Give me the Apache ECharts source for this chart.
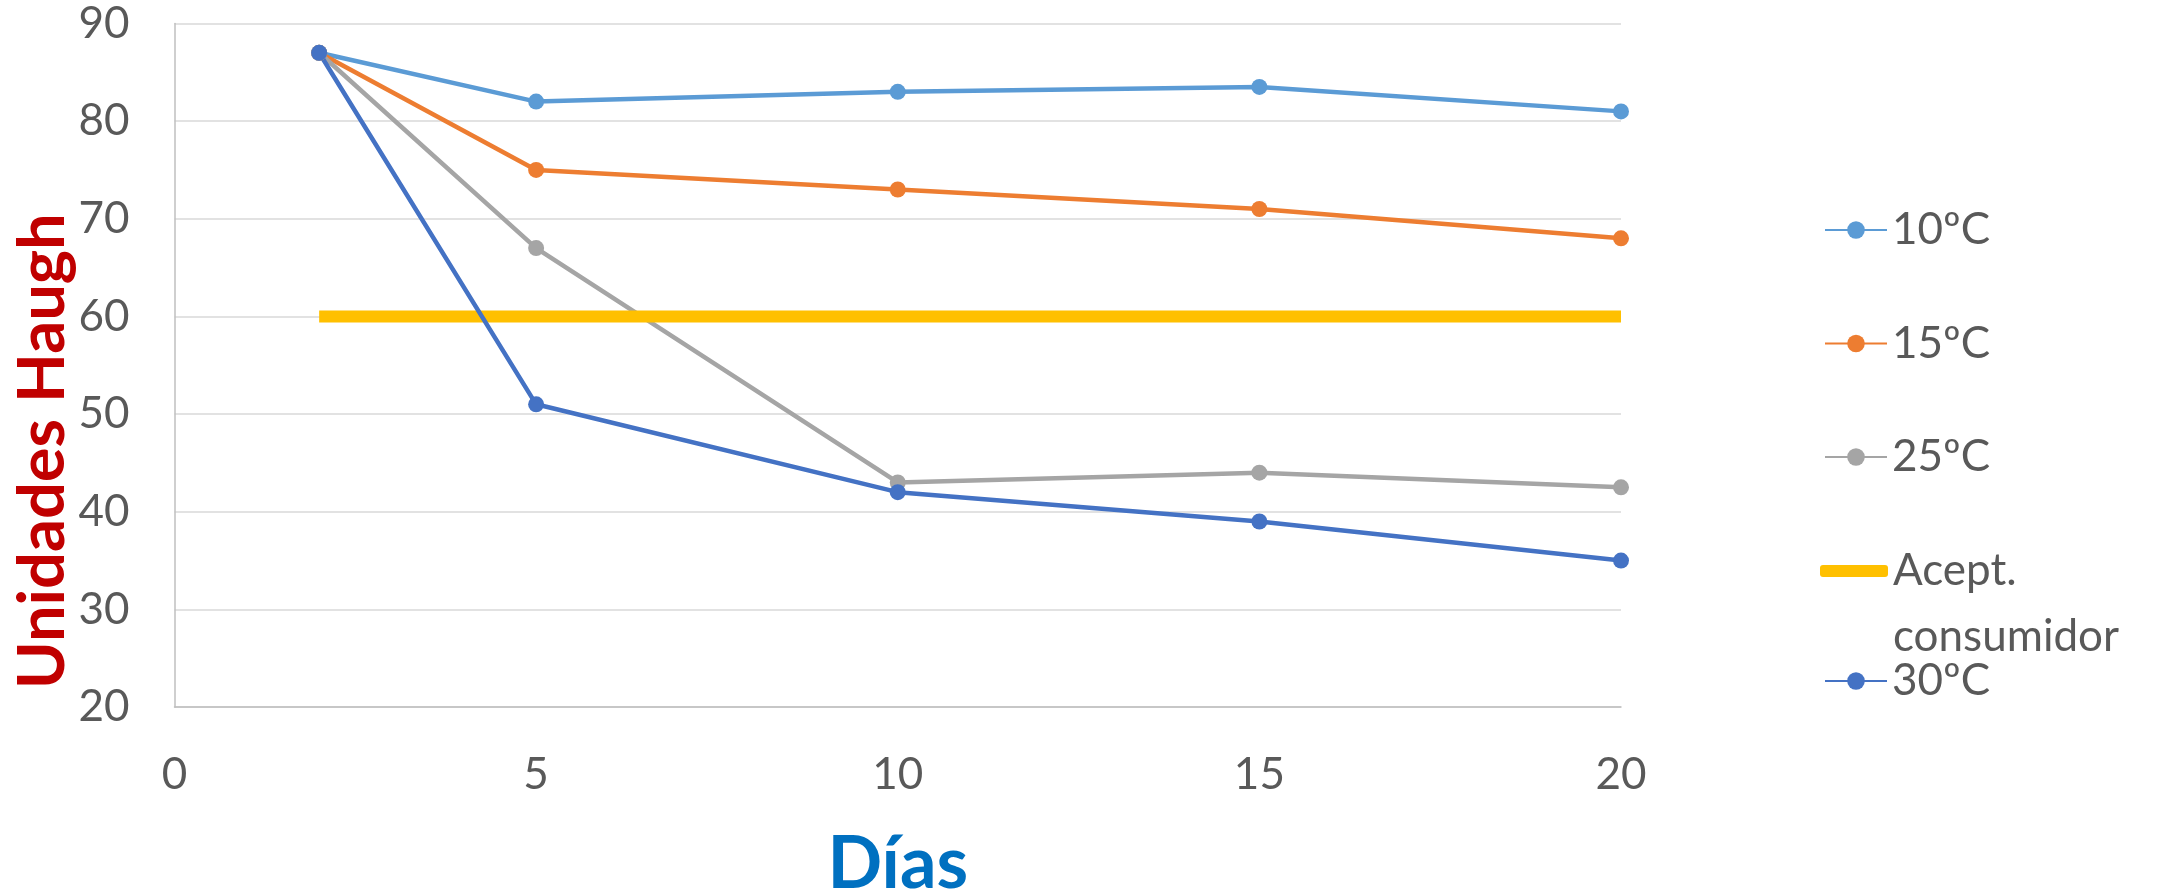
<!DOCTYPE html>
<html>
<head>
<meta charset="utf-8">
<script src="https://cdn.jsdelivr.net/npm/echarts@6/dist/echarts.min.js"></script>
<style>
  html, body { margin: 0; padding: 0; background: #ffffff; }
  #chart { width: 2170px; height: 896px; }
</style>
</head>
<body>
<div id="chart"></div>
<script>
// Haugh units over storage days at several temperatures
const dias = [2, 5, 10, 15, 20];
const t10 = [87, 82, 83, 83.5, 81];
const t15 = [87, 75, 73, 71, 68];
const t25 = [87, 67, 43, 44, 42.5];
const t30 = [87, 51, 42, 39, 35];
const aceptDias = [2, 20];
const aceptValor = [60, 60];

const xTicks = { min: 0, max: 20, interval: 5 };
const yTicks = { min: 20, max: 90, interval: 10 };

const FONT = 'Lato, "Open Sans", sans-serif';
const GREY = '#595959';

function pairs(xs, ys) { return xs.map((x, i) => [x, ys[i]]); }

function lineSeries(name, ys, color) {
  return {
    name: name,
    type: 'line',
    data: pairs(dias, ys),
    symbol: 'circle',
    symbolSize: 16,
    itemStyle: { color: color },
    lineStyle: { color: color, width: 4.5 },
    emphasis: { disabled: true },
    animation: false
  };
}

const chart = echarts.init(document.getElementById('chart'));

const legendText = { fontFamily: FONT, fontSize: 44, color: GREY, lineHeight: 50 };

chart.setOption({
  backgroundColor: '#ffffff',
  grid: { left: 174.5, right: 549, top: 23.5, bottom: 189, containLabel: false, outerBoundsMode: 'none' },
  xAxis: {
    type: 'value',
    min: xTicks.min, max: xTicks.max, interval: xTicks.interval,
    name: 'Días',
    nameLocation: 'middle',
    nameGap: 118,
    nameMoveOverlap: false,
    nameTextStyle: { fontFamily: FONT, fontSize: 72, fontWeight: 'bold', color: '#0070C0', lineHeight: 80 },
    axisLine: { show: true, lineStyle: { color: '#BFBFBF', width: 1.5 } },
    axisTick: { show: false },
    splitLine: { show: false },
    axisLabel: { fontFamily: FONT, fontSize: 44, color: GREY, margin: 46, lineHeight: 44 }
  },
  yAxis: {
    type: 'value',
    min: yTicks.min, max: yTicks.max, interval: yTicks.interval,
    name: 'Unidades Haugh',
    nameLocation: 'middle',
    nameRotate: 90,
    nameGap: 96,
    nameMoveOverlap: false,
    nameTextStyle: { fontFamily: FONT, fontSize: 65, fontWeight: 'bold', color: '#C00000', lineHeight: 70, padding: [0, 172, 0, 0] },
    axisLine: { show: true, lineStyle: { color: '#BFBFBF', width: 1.5 } },
    axisTick: { show: false },
    splitLine: { show: true, lineStyle: { color: '#D9D9D9', width: 1.5 } },
    axisLabel: { fontFamily: FONT, fontSize: 44, color: GREY, margin: 45 }
  },
  legend: [
    {
      data: ['10ºC', '15ºC', '25ºC'],
      orient: 'vertical', left: 1824, top: 205, padding: 0,
      itemWidth: 62, itemHeight: 22, itemGap: 63.5,
      textStyle: legendText, selectedMode: false
    },
    {
      data: [{ name: 'Acept. consumidor', icon: 'roundRect', itemStyle: { color: '#FFC000' } }],
      formatter: function () { return '\nAcept.\nconsumidor'; },
      orient: 'vertical', left: 1820, top: 472, padding: 0,
      itemWidth: 68, itemHeight: 12,
      textStyle: { fontFamily: FONT, fontSize: 44, color: GREY, lineHeight: 66 },
      selectedMode: false
    },
    {
      data: ['30ºC'],
      orient: 'vertical', left: 1824, top: 656, padding: 0,
      itemWidth: 62, itemHeight: 22,
      textStyle: legendText, selectedMode: false
    }
  ],
  series: [
    lineSeries('10ºC', t10, '#5B9BD5'),
    lineSeries('15ºC', t15, '#ED7D31'),
    lineSeries('25ºC', t25, '#A5A5A5'),
    {
      name: 'Acept. consumidor',
      type: 'line',
      data: pairs(aceptDias, aceptValor),
      symbol: 'none',
      itemStyle: { color: '#FFC000' },
      lineStyle: { color: '#FFC000', width: 12, cap: 'butt' },
      emphasis: { disabled: true },
      animation: false
    },
    lineSeries('30ºC', t30, '#4472C4')
  ]
});
</script>
</body>
</html>
